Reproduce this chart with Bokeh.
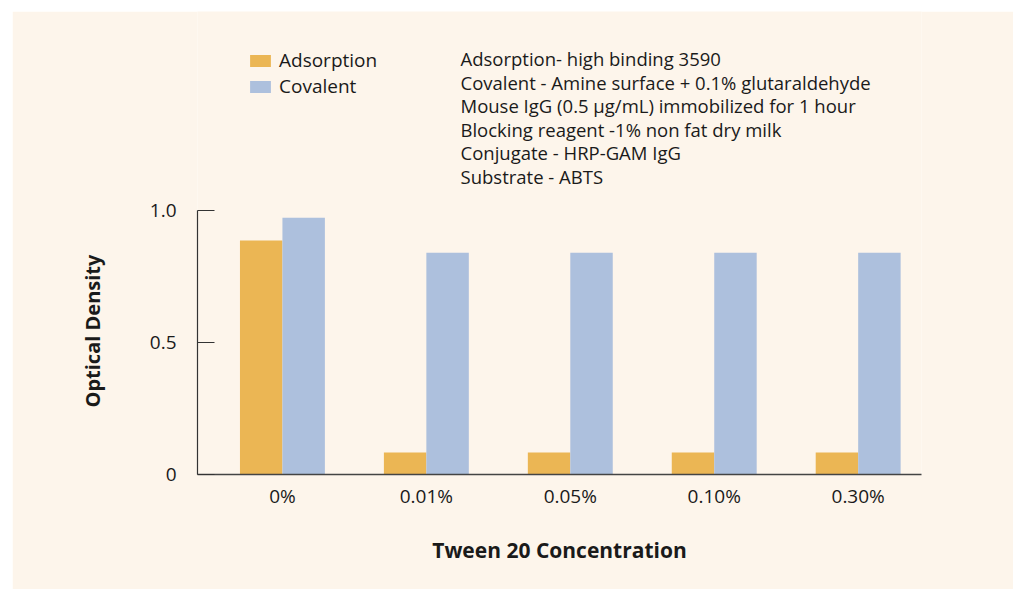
from bokeh.plotting import figure
from bokeh.models import (ColumnDataSource, FixedTicker, Label, Legend, LegendItem,
                          Range1d, Spacer, Title)
from bokeh.layouts import column, row
from bokeh.embed import file_html
from bokeh.resources import INLINE

# ---- data ----
categories = ["0%", "0.01%", "0.05%", "0.10%", "0.30%"]
adsorption = [0.886, 0.083, 0.083, 0.083, 0.083]
covalent = [0.973, 0.840, 0.840, 0.840, 0.840]
y_ticks = [0, 0.5, 1.0]
y_tick_labels = ["0", "0.5", "1.0"]
notes = [
    "Adsorption- high binding 3590",
    "Covalent - Amine surface + 0.1% glutaraldehyde",
    "Mouse IgG (0.5 \u00b5g/mL) immobilized for 1 hour",
    "Blocking reagent -1% non fat dry milk",
    "Conjugate - HRP-GAM IgG",
    "Substrate - ABTS",
]

BG = "#FDF5EB"
ORANGE = "#EBB654"
BLUE = "#ADC0DD"
TXT = "#1a1a1a"
FONT = "Open Sans"

# layout in figure pixels (figure sits at page offset 12,11)
W, H = 1001, 578
FL, FR = 185, 909          # frame left/right
FT, FB = 0, 463            # frame top/bottom (frame extends above the axis for legend + notes)
AX_TOP = 199               # pixel where y = 1.0 sits
FW, FH = FR - FL, FB - FT
per_unit = FB - AX_TOP     # pixels for 1.0 optical density

x0, x1 = -0.59, 4.44
y_top = FH / per_unit

p = figure(width=W, height=H, output_backend="svg", toolbar_location=None,
           x_range=Range1d(x0, x1), y_range=Range1d(0, y_top),
           min_border_left=FL, min_border_top=FT,
           min_border_right=W - FR, min_border_bottom=H - FB)
p.background_fill_color = BG
p.border_fill_color = BG
p.outline_line_color = None
p.grid.visible = False

xs = list(range(len(categories)))
bw = 0.295
src = ColumnDataSource(dict(
    xa=[x - bw / 2 for x in xs], xc=[x + bw / 2 for x in xs],
    ads=adsorption, cov=covalent))
ra = p.vbar(x="xa", top="ads", width=bw, source=src, fill_color=ORANGE, line_color=None)
rc = p.vbar(x="xc", top="cov", width=bw, source=src, fill_color=BLUE, line_color=None)

# axes
xa = p.xaxis[0]
xa.ticker = FixedTicker(ticks=xs)
xa.major_label_overrides = {i: c for i, c in enumerate(categories)}
xa.major_tick_line_color = None
xa.minor_tick_line_color = None
xa.axis_line_color = "#444444"
xa.axis_line_width = 1.5
xa.major_label_text_font = FONT
xa.major_label_text_font_size = "19px"
xa.major_label_text_color = TXT
xa.major_label_standoff = 2
xa.axis_label = "Tween 20 Concentration"
xa.axis_label_text_font = FONT
xa.axis_label_text_font_style = "bold"
xa.axis_label_text_font_size = "21px"
xa.axis_label_text_color = TXT
xa.axis_label_standoff = 24

ya = p.yaxis[0]
ya.bounds = (0, 1.0)
ya.ticker = FixedTicker(ticks=y_ticks)
ya.major_label_overrides = {t: l for t, l in zip(y_ticks, y_tick_labels)}
ya.major_tick_in = 17
ya.major_tick_out = 0
ya.major_tick_line_color = "#333333"
ya.major_tick_line_width = 1.2
ya.minor_tick_line_color = None
ya.axis_line_color = "#333333"
ya.axis_line_width = 1.2
ya.major_label_text_font = FONT
ya.major_label_text_font_size = "19px"
ya.major_label_text_color = TXT
ya.major_label_standoff = 21

# y-axis title, positioned along the 0..1 axis span (frame extends higher)
p.add_layout(Title(text="Optical Density", align="left", offset=67, standoff=82,
                   text_font=FONT, text_font_style="bold", text_font_size="20px",
                   text_color=TXT), "left")

# legend (inside the extended frame, above the bars)
legend = Legend(items=[LegendItem(label="Adsorption", renderers=[ra]),
                       LegendItem(label="Covalent", renderers=[rc])],
                location=(50, 375), orientation="vertical",
                glyph_width=26, glyph_height=15, label_height=22, spacing=0,
                padding=0, margin=0, label_standoff=6,
                label_text_font=FONT, label_text_font_size="19px",
                label_text_color=TXT, border_line_color=None,
                background_fill_alpha=0)
p.add_layout(legend, "center")

# notes text block (pixel layout -> data coords)
def px_to_x(px):
    return x0 + (px - FL) * (x1 - x0) / FW

def py_to_y(py):
    return (FB - py) / per_unit

note_x = 448
note_top = 47
note_step = 23.5
for i, t in enumerate(notes):
    p.add_layout(Label(x=px_to_x(note_x), y=py_to_y(note_top + i * note_step),
                       text=t, text_font=FONT, text_font_size="18.5px",
                       text_color=TXT, text_baseline="middle", text_align="left"))

layout = column(Spacer(height=11), row(Spacer(width=12), p))
open("out.html", "w").write(file_html(layout, INLINE))
